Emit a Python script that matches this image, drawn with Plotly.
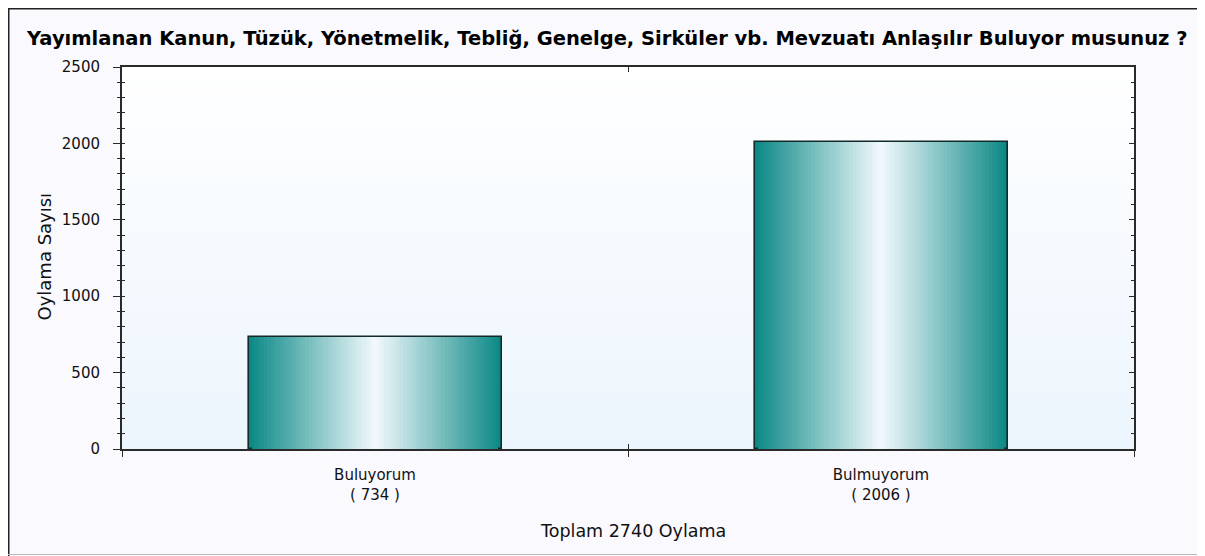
import base64, struct, zlib
import plotly.graph_objects as go

# ---- data ----
categories = ["Buluyorum", "Bulmuyorum"]
votes = [734, 2006]
total_label = "Toplam"
vote_word = "Oylama"
title_text = "Yayımlanan Kanun, Tüzük, Yönetmelik, Tebliğ, Genelge, Sirküler vb. Mevzuatı Anlaşılır Buluyor musunuz ?"
y_title = "Oylama Sayısı"
y_range = [0, 2500]

# figure is placed by the page at (8, 8); coordinates below are figure pixels
W, H = 1205, 548
L, R, T, B = 114, 1126, 59, 441
pw, ph = R - L, B - T

def px_x(px):
    return (px - L) / pw

def px_y(py):
    return (B - py) / ph

def png_gradient(top, bottom, n=256):
    rows = b""
    for i in range(n):
        t = i / (n - 1)
        c = bytes(int(round(top[k] + (bottom[k] - top[k]) * t)) for k in range(3))
        rows += b"\x00" + c
    def chunk(tag, data):
        return struct.pack(">I", len(data)) + tag + data + struct.pack(">I", zlib.crc32(tag + data) & 0xffffffff)
    png = b"\x89PNG\r\n\x1a\n"
    png += chunk(b"IHDR", struct.pack(">IIBBBBB", 1, n, 8, 2, 0, 0, 0))
    png += chunk(b"IDAT", zlib.compress(rows))
    png += chunk(b"IEND", b"")
    return "data:image/png;base64," + base64.b64encode(png).decode()

labels = [f"{c}<br>( {v} )" for c, v in zip(categories, votes)]

edge = (12, 137, 133)
center = (240, 248, 253)
N = 40
fig = go.Figure()
for k in range(N):
    t = k / (N - 1)
    col = tuple(int(round(edge[i] + (center[i] - edge[i]) * t)) for i in range(3))
    w = 0.5 * (1 - k / N)
    fig.add_trace(go.Bar(
        x=labels, y=votes, width=w,
        marker=dict(color=f"rgb{col}",
                    line=dict(color="#132a2a", width=1.6 if k == 0 else 0)),
        showlegend=False, hoverinfo="skip" if k else "x+y",
    ))

axis_col = "#2a2a2a"
font_fam = "DejaVu Sans"
tick_font = dict(family=font_fam, size=15, color="#111111")

overlay_x = dict(range=[-0.5, 1.5], type="category", categoryarray=labels, categoryorder="array",
                 showticklabels=False, tickson="boundaries", ticks="inside", ticklen=5,
                 tickcolor=axis_col, showgrid=False, zeroline=False, showline=False)

fig.update_layout(
    width=W, height=H,
    margin=dict(l=L, r=W - R, t=T, b=H - B),
    barmode="overlay",
    bargap=0,
    paper_bgcolor="#f9f9fe",
    plot_bgcolor="rgba(0,0,0,0)",
    title=dict(text=f"<b>{title_text}</b>", x=19 / W, xanchor="left", xref="container",
               y=1 - 30 / H, yanchor="middle", yref="container",
               font=dict(family=font_fam, size=19.5, color="#000000")),
    xaxis=dict(range=[-0.5, 1.5], showline=True, linecolor=axis_col, linewidth=2, mirror=True,
               ticks="outside", tickson="boundaries", ticklen=6, tickcolor=axis_col, tickwidth=1,
               showgrid=False, tickfont=tick_font, ticklabelstandoff=11, zeroline=False),
    xaxis2=dict(overlaying="x", side="top", **overlay_x),
    xaxis3=dict(overlaying="x", side="bottom", **overlay_x),
    yaxis=dict(range=y_range, dtick=500, showline=True, linecolor=axis_col, linewidth=2, mirror=True,
               ticks="outside", ticklen=7, tickcolor=axis_col, tickwidth=1,
               minor=dict(dtick=100, ticks="outside", ticklen=3, tickcolor=axis_col),
               showgrid=False, zeroline=False, tickfont=tick_font, ticklabelstandoff=10),
    yaxis2=dict(range=y_range, dtick=500, overlaying="y", side="right", showticklabels=False,
                ticks="inside", ticklen=5, tickcolor=axis_col, showgrid=False, zeroline=False,
                minor=dict(dtick=100, ticks="inside", ticklen=3, tickcolor=axis_col)),
    yaxis3=dict(range=y_range, dtick=500, overlaying="y", side="left", showticklabels=False,
                ticks="inside", ticklen=3, tickcolor=axis_col, showgrid=False, zeroline=False,
                minor=dict(dtick=100, ticks="inside", ticklen=3, tickcolor=axis_col)),
    images=[dict(source=png_gradient((255, 255, 255), (236, 245, 253)), xref="paper", yref="paper",
                 x=0, y=1, sizex=1, sizey=1, sizing="stretch", xanchor="left", yanchor="top",
                 layer="below")],
    annotations=[
        dict(text=y_title, xref="paper", yref="paper", x=px_x(23), y=px_y(249), textangle=-90,
             showarrow=False, font=dict(family=font_fam, size=18, color="#111111")),
        dict(text=f"{total_label} {sum(votes)} {vote_word}", xref="paper", yref="paper",
             x=px_x(625), y=px_y(535), showarrow=False,
             font=dict(family=font_fam, size=17.5, color="#111111")),
    ],
    shapes=[
        dict(type="line", xref="paper", yref="paper", x0=px_x(0.75), x1=px_x(0.75), y0=px_y(0), y1=px_y(548),
             line=dict(color="#222222", width=1.5)),
        dict(type="line", xref="paper", yref="paper", x0=px_x(0), x1=px_x(1205), y0=px_y(0.75), y1=px_y(0.75),
             line=dict(color="#222222", width=1.5)),
        dict(type="line", xref="paper", yref="paper", x0=px_x(0), x1=px_x(1205), y0=px_y(546.5), y1=px_y(546.5),
             line=dict(color="#b8b8b8", width=1)),
    ],
)
# invisible helper traces so the overlay axes are drawn
fig.add_trace(go.Scatter(x=labels, y=[0, 0], xaxis="x2", yaxis="y2", mode="markers",
                         marker=dict(opacity=0), showlegend=False, hoverinfo="skip"))
fig.add_trace(go.Scatter(x=labels, y=[0, 0], xaxis="x3", yaxis="y3", mode="markers",
                         marker=dict(opacity=0), showlegend=False, hoverinfo="skip"))

fig.write_html("out.html")
